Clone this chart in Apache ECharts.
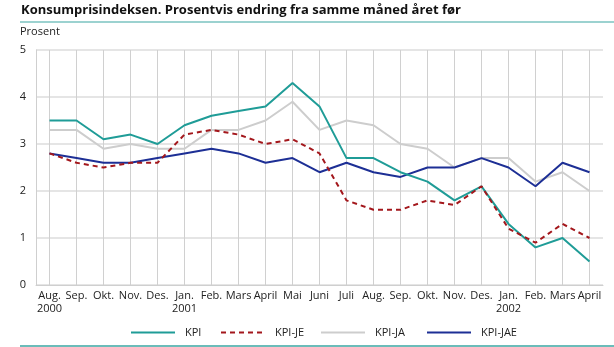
<!DOCTYPE html>
<html><head><meta charset="utf-8">
<script src="https://cdn.jsdelivr.net/npm/echarts@6/dist/echarts.min.js"></script>
<style>html,body{margin:0;padding:0;background:#fff}#c{width:614px;height:347px}</style>
</head><body><div id="c"></div>
<script>
const months = ['Aug.\n2000','Sep.','Okt.','Nov.','Des.','Jan.\n2001','Feb.','Mars','April','Mai','Juni','Juli','Aug.','Sep.','Okt.','Nov.','Des.','Jan.\n2002','Feb.','Mars','April'];
const kpi    = [3.5,3.5,3.1,3.2,3.0,3.4,3.6,3.7,3.8,4.3,3.8,2.7,2.7,2.4,2.2,1.8,2.1,1.3,0.8,1.0,0.5];
const kpiJE  = [2.8,2.6,2.5,2.6,2.6,3.2,3.3,3.2,3.0,3.1,2.8,1.8,1.6,1.6,1.8,1.7,2.1,1.2,0.9,1.3,1.0];
const kpiJA  = [3.3,3.3,2.9,3.0,2.9,2.9,3.3,3.3,3.5,3.9,3.3,3.5,3.4,3.0,2.9,2.5,2.7,2.7,2.2,2.4,2.0];
const kpiJAE = [2.8,2.7,2.6,2.6,2.7,2.8,2.9,2.8,2.6,2.7,2.4,2.6,2.4,2.3,2.5,2.5,2.7,2.5,2.1,2.6,2.4];
const seriesNames = ['KPI','KPI-JE','KPI-JA','KPI-JAE'];
const yTicks = [0,1,2,3,4,5];

const font = '"Open Sans", "Noto Sans", sans-serif';
const legendLeft = [130, 220, 320, 426];
const chart = echarts.init(document.getElementById('c'), null, {renderer:'canvas'});
chart.setOption({
  animation:false,
  textStyle:{fontFamily:font},
  title:{text:'Konsumprisindeksen. Prosentvis endring fra samme måned året før', left:16, top:-1,
    textStyle:{fontFamily:font, fontSize:13, fontWeight:'bold', color:'#111'}},
  graphic:[
    {type:'line', shape:{x1:20,y1:22,x2:614,y2:22}, style:{stroke:'#3aa6a2', lineWidth:1.2}},
    {type:'line', shape:{x1:20,y1:346,x2:614,y2:346}, style:{stroke:'#3aa6a2', lineWidth:1.5}},
    {type:'text', left:20, top:26, style:{text:'Prosent', font:'11px '+font, fill:'#222'}}
  ],
  grid:{left:36, right:11, top:50, bottom:62},
  legend: seriesNames.map((n,i)=>({left:legendLeft[i], top:327, padding:0, itemWidth:44, itemHeight:12,
    itemStyle:{opacity:0},
    textStyle:{fontFamily:font, fontSize:11, color:'#222', padding:[0,0,0,5]},
    data:[n]})),
  xAxis:{type:'category', data:months, boundaryGap:true,
    axisLine:{show:true, lineStyle:{color:'#cfcfcf', width:1}},
    axisTick:{show:true, inside:true, alignWithLabel:true, interval:0, length:235, lineStyle:{color:'#d0d0d0', width:1}},
    axisLabel:{interval:0, color:'#222', fontSize:11, margin:4, lineHeight:13, fontFamily:font},
    splitLine:{show:false}},
  yAxis:{type:'value', min:0, max:5, interval:1,
    axisLine:{show:true, lineStyle:{color:'#cfcfcf', width:1}},
    axisTick:{show:false},
    axisLabel:{color:'#222', fontSize:11, margin:10, fontFamily:font,
      formatter:v=>yTicks.includes(v)?String(v):''},
    splitLine:{lineStyle:{color:'#dcdcdc', width:1.5}}},
  series:[
    {name:seriesNames[0], type:'line', data:kpi, symbol:'none', lineStyle:{color:'#1f9c97', width:2}, itemStyle:{color:'#1f9c97'}, z:4},
    {name:seriesNames[1], type:'line', data:kpiJE, symbol:'none', lineStyle:{color:'#a3171c', width:2, type:[5,4]}, itemStyle:{color:'#a3171c'}, z:5},
    {name:seriesNames[2], type:'line', data:kpiJA, symbol:'none', lineStyle:{color:'#cdcdcd', width:2}, itemStyle:{color:'#cdcdcd'}, z:2},
    {name:seriesNames[3], type:'line', data:kpiJAE, symbol:'none', lineStyle:{color:'#1d2f95', width:2}, itemStyle:{color:'#1d2f95'}, z:3}
  ]
});
</script></body></html>
